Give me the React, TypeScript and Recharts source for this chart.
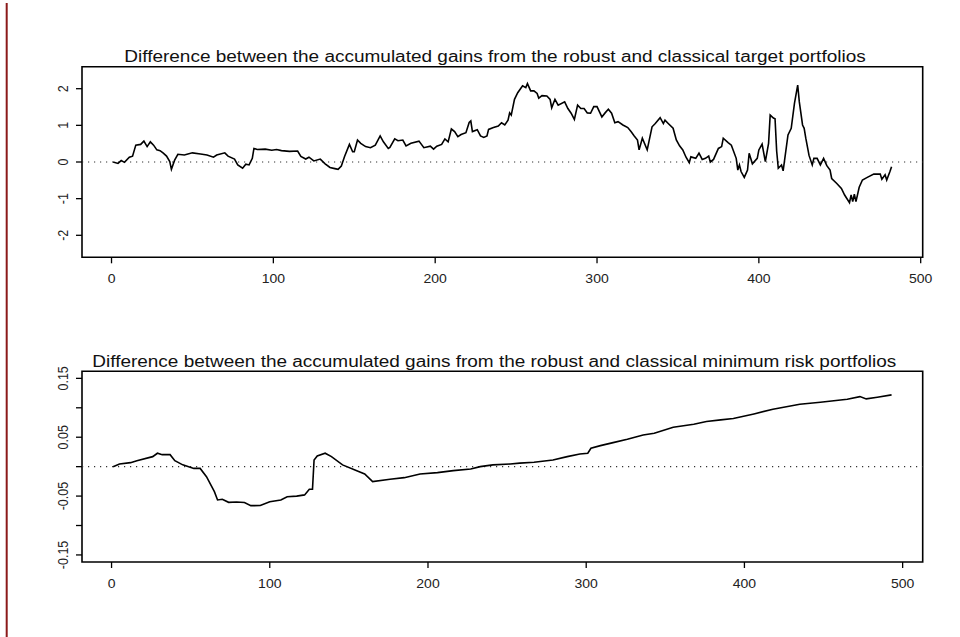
import { Line, LineChart, ReferenceArea, ReferenceLine, XAxis, YAxis } from "recharts";

// Accumulated gain difference, robust minus classical target portfolio
const targetDays = [
  1, 4, 6, 8, 11, 13, 15, 18, 20, 22, 24, 26, 28, 30, 32, 34, 36, 37, 39, 41,
  45, 50, 55, 59, 63, 65, 70, 72, 76, 78, 81, 83, 85, 87, 88, 90, 95, 99, 102, 105,
  110, 115, 117, 120, 122, 125, 129, 132, 135, 138, 140, 142, 144, 147, 149, 150, 152, 154, 157, 160,
  163, 166, 168, 171, 172, 175, 177, 180, 182, 185, 190, 193, 197, 199, 201, 204, 206, 208, 210, 212,
  214, 216, 219, 221, 222, 223, 226, 228, 230, 232, 233, 236, 239, 241, 243, 245, 246, 247, 249, 251,
  254, 256, 257, 259, 261, 263, 264, 266, 269, 271, 272, 274, 276, 280, 282, 284, 286, 288, 290, 292,
  294, 296, 298, 300, 303, 305, 307, 309, 311, 313, 316, 319, 321, 323, 325, 326, 328, 331, 334, 336,
  339, 341, 342, 344, 347, 349, 351, 353, 355, 357, 358, 361, 363, 365, 367, 369, 370, 372, 375, 377,
  378, 381, 383, 386, 387, 388, 389, 391, 393, 394, 396, 399, 400, 402, 404, 406, 407, 409, 410, 411,
  412, 414, 415, 418, 420, 422, 424, 425, 427, 428, 429, 431, 433, 434, 436, 438, 440, 442, 444, 445,
  448, 451, 453, 456, 457, 458, 459, 460, 462, 464, 467, 471, 475, 476, 478, 479, 481, 482,
];
const targetDiff = [
  0, -0.04, 0.04, -0.01, 0.13, 0.16, 0.46, 0.48, 0.57, 0.42, 0.55, 0.46, 0.33, 0.31, 0.24, 0.16, 0.01, -0.2, 0.05, 0.21,
  0.19, 0.25, 0.22, 0.19, 0.13, 0.19, 0.25, 0.16, 0.08, -0.08, -0.17, -0.06, -0.08, 0.1, 0.37, 0.34, 0.35, 0.32, 0.34, 0.31,
  0.29, 0.3, 0.15, 0.08, 0.13, 0.03, 0.08, -0.05, -0.15, -0.18, -0.2, -0.11, 0.15, 0.48, 0.28, 0.28, 0.6, 0.51, 0.42, 0.39,
  0.46, 0.71, 0.55, 0.37, 0.4, 0.63, 0.58, 0.6, 0.44, 0.51, 0.57, 0.39, 0.43, 0.35, 0.43, 0.48, 0.63, 0.55, 0.9, 0.83,
  0.69, 0.75, 0.8, 1.08, 1.12, 0.83, 0.88, 0.71, 0.67, 0.71, 0.89, 0.94, 0.98, 1.07, 1.01, 1.14, 1.34, 1.28, 1.71, 1.89,
  2.08, 2.03, 2.14, 1.94, 1.94, 1.87, 1.74, 1.81, 1.8, 1.71, 1.48, 1.71, 1.55, 1.64, 1.46, 1.33, 1.16, 1.55, 1.46, 1.46,
  1.34, 1.33, 1.51, 1.51, 1.23, 1.34, 1.44, 1.33, 1.07, 1.1, 1.01, 0.94, 0.83, 0.71, 0.6, 0.33, 0.65, 0.33, 0.96, 1.05,
  1.21, 1.05, 1.14, 1.05, 0.92, 0.6, 0.44, 0.33, 0.13, -0.02, 0.14, 0.1, 0.24, 0.07, 0.1, 0.16, 0, 0.07, 0.37, 0.42,
  0.65, 0.53, 0.46, 0.1, -0.22, -0.08, -0.26, -0.42, -0.22, 0.24, -0.05, 0.1, 0.33, 0.49, 0.01, 0.51, 1.28, 1.2, 1.18, 0.3,
  -0.17, -0.08, -0.24, 0.74, 0.92, 1.6, 2.1, 1.64, 1.01, 0.92, 0.65, 0.18, -0.08, 0.1, 0.1, -0.08, 0.1, -0.1, -0.22, -0.45,
  -0.58, -0.72, -0.9, -1.11, -0.9, -1.08, -0.88, -1.08, -0.69, -0.49, -0.42, -0.33, -0.33, -0.47, -0.35, -0.49, -0.26, -0.13,
];

// Accumulated gain difference, robust minus classical minimum risk portfolio
const minRiskDays = [
  1, 5, 12, 16, 26, 29, 32, 37, 40, 45, 52, 56, 60, 65, 67, 70, 74, 79, 84, 88,
  94, 100, 107, 111, 117, 122, 125, 127, 128, 130, 135, 139, 146, 155, 160, 165, 176, 185, 195, 206,
  216, 227, 233, 241, 252, 258, 267, 279, 288, 296, 301, 303, 309, 317, 326, 336, 343, 355, 368, 376,
  385, 393, 406, 418, 435, 448, 465, 473, 477, 484, 493,
];
const minRiskDiff = [
  0, 0.0046, 0.0068, 0.0102, 0.017, 0.0228, 0.0204, 0.0204, 0.0102, 0.003, -0.003, -0.003, -0.017, -0.0425, -0.0566, -0.0555, -0.0606, -0.06, -0.061, -0.0663,
  -0.066, -0.0595, -0.0566, -0.051, -0.05, -0.048, -0.0385, -0.0385, 0.0113, 0.0181, 0.0228, 0.017, 0.003, -0.0068, -0.0125, -0.0255, -0.0215, -0.0187, -0.0125, -0.0102,
  -0.0068, -0.004, 0, 0.003, 0.0045, 0.006, 0.0074, 0.0113, 0.017, 0.0215, 0.0227, 0.0312, 0.0357, 0.0408, 0.0465, 0.0539, 0.0567, 0.067, 0.0721, 0.0766,
  0.0794, 0.0817, 0.0896, 0.0976, 0.1061, 0.1095, 0.1146, 0.119, 0.1151, 0.118, 0.1219,
];

const dayTicks = [0, 100, 200, 300, 400, 500];
const targetYTicks = [-2, -1, 0, 1, 2];
const targetYLabels = ["-2", "-1", "0", "1", "2"];
const minRiskYTicks = [-0.15, -0.1, -0.05, 0, 0.05, 0.1, 0.15];
const minRiskYLabels = ["-0.15", "", "-0.05", "", "0.05", "", "0.15"];

const targetTitle =
  "Difference between the accumulated gains from the robust and classical target portfolios";
const minRiskTitle =
  "Difference between the accumulated gains from the robust and classical minimum risk portfolios";

const FONT = '"Liberation Sans", Arial, Helvetica, sans-serif';
const STRETCH = 1.12;

function XTick({ x, y, payload }: any) {
  return (
    <g transform={`translate(${x},${y + 19.5}) scale(${STRETCH} 1)`}>
      <text x={0} y={0} textAnchor="middle" fontSize={12.5} fontFamily={FONT} fill="#222">
        {payload.value}
      </text>
    </g>
  );
}

function makeYTick(ticks: number[], labels: string[]) {
  return function YTick({ x, y, payload }: any) {
    const i = ticks.findIndex((t) => Math.abs(t - payload.value) < 1e-9);
    const label = i >= 0 ? labels[i] : "";
    if (!label) return <g />;
    return (
      <g transform={`translate(${x - 7.7},${y}) scale(${STRETCH} 1) rotate(-90)`}>
        <text x={0} y={0} textAnchor="middle" fontSize={12.5} fontFamily={FONT} fill="#222">
          {label}
        </text>
      </g>
    );
  };
}

type PanelProps = {
  top: number;
  height: number;
  margin: { top: number; right: number; bottom: number; left: number };
  days: number[];
  values: number[];
  xDomain: [number, number];
  yDomain: [number, number];
  yTicks: number[];
  yLabels: string[];
};

function Panel({ top, height, margin, days, values, xDomain, yDomain, yTicks, yLabels }: PanelProps) {
  const rows = days.map((day, i) => ({ day, value: values[i] }));
  const YTick = makeYTick(yTicks, yLabels);
  return (
    <div style={{ position: "absolute", left: 0, top }}>
      <LineChart width={960} height={height} data={rows} margin={margin}>
        <XAxis
          dataKey="day"
          type="number"
          domain={xDomain}
          ticks={dayTicks}
          interval={0}
          allowDataOverflow
          axisLine={false}
          tickLine={{ stroke: "#000", strokeWidth: 1.3 }}
          tickSize={6}
          tickMargin={0}
          height={30}
          tick={<XTick />}
        />
        <YAxis
          type="number"
          domain={yDomain}
          ticks={yTicks}
          interval={0}
          allowDataOverflow
          axisLine={false}
          tickLine={{ stroke: "#000", strokeWidth: 1.3 }}
          tickSize={6}
          tickMargin={0}
          width={30}
          tick={<YTick />}
        />
        <ReferenceLine y={0} stroke="#333" strokeWidth={1.2} strokeDasharray="1.2 4.8" />
        <Line
          type="linear"
          dataKey="value"
          stroke="#000"
          strokeWidth={1.6}
          dot={false}
          isAnimationActive={false}
        />
        <ReferenceArea
          x1={xDomain[0]}
          x2={xDomain[1]}
          y1={yDomain[0]}
          y2={yDomain[1]}
          fill="none"
          stroke="#000"
          strokeWidth={1.6}
          ifOverflow="visible"
        />
      </LineChart>
    </div>
  );
}

export default function App() {
  return (
    <div
      style={{
        position: "absolute",
        left: 0,
        top: 0,
        width: 960,
        height: 637,
        background: "#fff",
        overflow: "hidden",
      }}
    >
      <Panel
        top={0}
        height={300}
        margin={{ top: 66.7, right: 37.3, bottom: 12.7, left: 52 }}
        days={targetDays}
        values={targetDiff}
        xDomain={[-18.24, 501.24]}
        yDomain={[-2.6, 2.6]}
        yTicks={targetYTicks}
        yLabels={targetYLabels}
      />
      <Panel
        top={300}
        height={320}
        margin={{ top: 71.3, right: 37.3, bottom: 28, left: 52 }}
        days={minRiskDays}
        values={minRiskDiff}
        xDomain={[-18.68, 512.68]}
        yDomain={[-0.162, 0.162]}
        yTicks={minRiskYTicks}
        yLabels={minRiskYLabels}
      />
      <svg
        width={960}
        height={637}
        style={{ position: "absolute", left: 0, top: 0, pointerEvents: "none" }}
      >
        <line x1={6.7} y1={3} x2={6.7} y2={637} stroke="#8b1a1a" strokeWidth={2} />
        <text
          x={124.3}
          y={61.5}
          fontSize={16}
          fontFamily={FONT}
          fill="#111"
          textLength={741.4}
          lengthAdjust="spacingAndGlyphs"
        >
          {targetTitle}
        </text>
        <text
          x={92.3}
          y={366.5}
          fontSize={16}
          fontFamily={FONT}
          fill="#111"
          textLength={804}
          lengthAdjust="spacingAndGlyphs"
        >
          {minRiskTitle}
        </text>
      </svg>
    </div>
  );
}
